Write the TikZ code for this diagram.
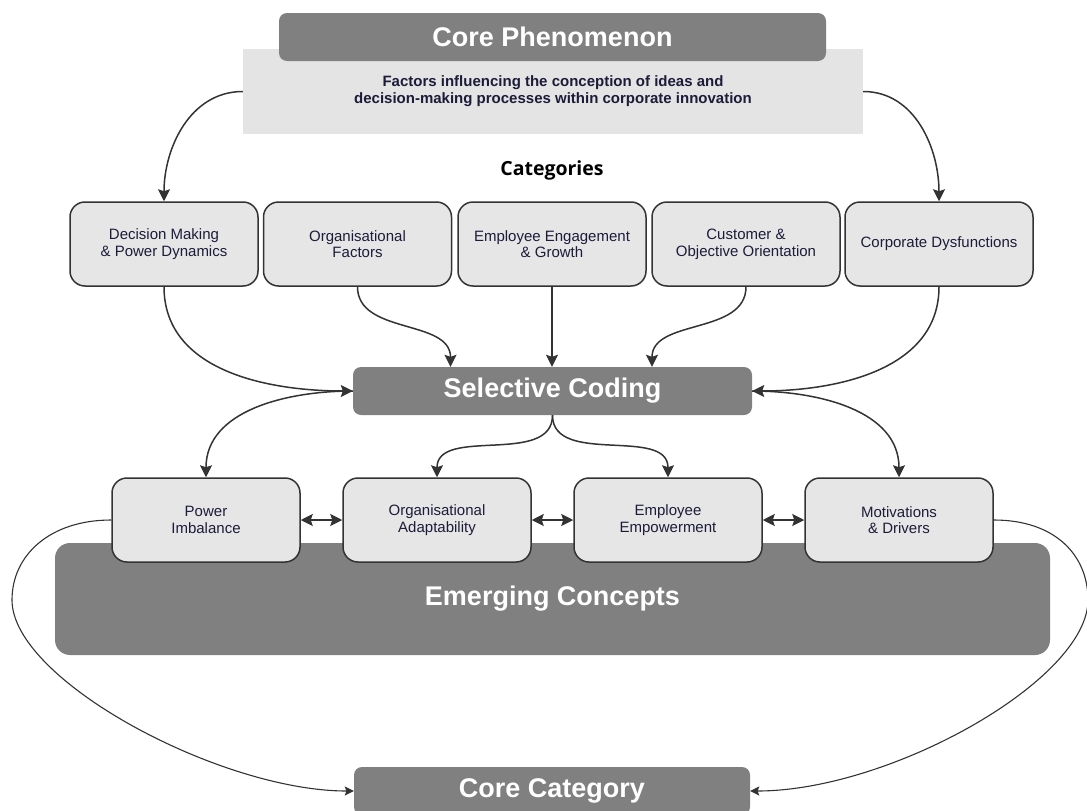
\documentclass[tikz,border=0pt]{standalone}
\usepackage{fontspec}
\setmainfont{Liberation Sans}
\newfontfamily\headfont{Open Sans}
\usetikzlibrary{arrows.meta}

\definecolor{titlegray}{HTML}{808080}
\definecolor{bandgray}{HTML}{E4E4E4}
\definecolor{cardfill}{HTML}{E6E6E6}
\definecolor{inkline}{HTML}{333333}
\definecolor{navytext}{HTML}{1C1C3A}

\begin{document}
\begin{tikzpicture}[x=1pt,y=-1pt,
  titlebox/.style={fill=titlegray, rounded corners=8pt, text=white,
    font=\fontsize{27}{30}\selectfont\bfseries, inner sep=0pt},
  bandbox/.style={fill=bandgray, inner sep=0pt, text=navytext, align=center,
    font=\fontsize{15}{17}\selectfont\bfseries},
  cardbox/.style={fill=cardfill, draw=inkline, line width=1.5pt, rounded corners=15pt,
    minimum width=188pt, minimum height=84pt, inner sep=0pt, text=navytext,
    align=center, font=\fontsize{15}{16.7}\selectfont},
  tip/.tip={Stealth[length=12pt,width=12pt,inset=2pt]},
  smalltip/.tip={Stealth[length=9pt,width=9pt,inset=1.5pt]},
  link/.style={draw=inkline, line width=1.5pt, -tip},
  twoway/.style={draw=inkline, line width=1.5pt, tip-tip},
  loop/.style={draw=inkline, line width=1.1pt, -smalltip}
]
\useasboundingbox (0,0) rectangle (1087,811);

% core phenomenon header with its description band
\node[bandbox, minimum width=620pt, minimum height=85pt] (desc) at (553,91.5)
  {Factors influencing the conception of ideas and\\decision-making processes within corporate innovation};
\node[titlebox, minimum width=547pt, minimum height=48pt] (cp) at (552.5,37) {Core Phenomenon};

\node[font=\headfont\fontsize{19.5}{22}\selectfont\bfseries, text=black] (cats) at (552,170) {Categories};

% categories
\node[cardbox] (cat1) at (164,244)   {Decision Making\\\& Power Dynamics};
\node[cardbox] (cat2) at (357.5,244) {Organisational\\Factors};
\node[cardbox] (cat3) at (552,244)   {Employee Engagement\\\& Growth};
\node[cardbox] (cat4) at (746,244)   {Customer \&\\Objective Orientation};
\node[cardbox] (cat5) at (939,244)   {Corporate Dysfunctions};

\node[titlebox, minimum width=399pt, minimum height=48pt] (sel) at (552.5,391) {Selective Coding};

% emerging concepts band and its concepts
\node[titlebox, rounded corners=15pt, minimum width=995pt, minimum height=112pt] (em) at (552.5,599) {Emerging Concepts};
\node[cardbox] (con1) at (206,520) {Power\\Imbalance};
\node[cardbox] (con2) at (437,520) {Organisational\\Adaptability};
\node[cardbox] (con3) at (668,520) {Employee\\Empowerment};
\node[cardbox] (con4) at (899,520) {Motivations\\\& Drivers};

\node[titlebox, minimum width=396pt, minimum height=48pt] (core) at (552,791) {Core Category};

% phenomenon to categories
\draw[link] (desc.west) to[out=180,in=90] (cat1.north);
\draw[link] (desc.east) to[out=0,in=90] (cat5.north);

% categories into selective coding
\draw[link] (cat1.south) to[out=-90,in=180] (sel.west);
\draw[link] (cat2.south) to[out=-90,in=90] ([xshift=-102pt]sel.north);
\draw[link] (cat3.south) -- (sel.north -| cat3.south);
\draw[link] (cat4.south) to[out=-90,in=90] ([xshift=99.5pt]sel.north);
\draw[link] (cat5.south) to[out=-90,in=0] (sel.east);

% selective coding out to the concepts
\draw[link] (sel.west) to[out=180,in=90] (con1.north);
\draw[link] (sel.south) to[out=-90,in=90] (con2.north);
\draw[link] (sel.south) to[out=-90,in=90] (con3.north);
\draw[link] (sel.east) to[out=0,in=90] (con4.north);

% links between neighbouring concepts
\draw[twoway] (con1.east) -- (con2.west);
\draw[twoway] (con2.east) -- (con3.west);
\draw[twoway] (con3.east) -- (con4.west);

% outer loops down to the core category
\coordinate (lbend) at (12,600);
\coordinate (rbend) at (1088,600);
\draw[loop] (con1.west) .. controls (50,520) and (12,555) .. (lbend)
  .. controls (12,680) and (220,791) .. (core.west);
\draw[loop] (con4.east) .. controls (1055,520) and (1088,555) .. (rbend)
  .. controls (1088,680) and (890,791) .. (core.east);
\end{tikzpicture}
\end{document}
